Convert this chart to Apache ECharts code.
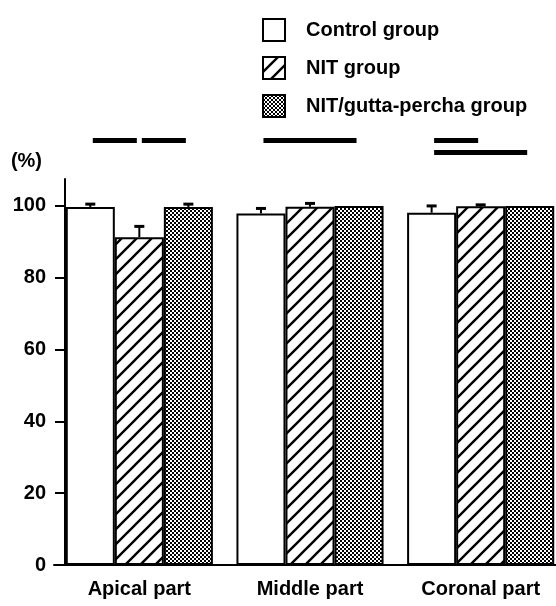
<!DOCTYPE html>
<html><head><meta charset="utf-8">
<script src="https://cdn.jsdelivr.net/npm/echarts@6/dist/echarts.min.js"></script>
<style>html,body{margin:0;padding:0;background:#fff}#c{width:556px;height:606px}</style>
</head><body><div id="c"></div>
<script>
// ---- data ----
const categories = ['Apical part', 'Middle part', 'Coronal part'];
const seriesNames = ['Control group', 'NIT group', 'NIT/gutta-percha group'];
const controlValues = [99.7, 97.9, 98.1];
const nitValues = [91.3, 99.8, 99.9];
const nitGpValues = [99.7, 100, 100];
const controlErrors = [0.8, 1.4, 1.9];
const nitErrors = [3.0, 0.9, 0.4];
const nitGpErrors = [0.8, 0, 0];
const yTicks = [0, 20, 40, 60, 80, 100];
// significance bars: [category, fromBar, toBar, row]
const sigLines = [[0, 0, 1, 0], [0, 1, 2, 0], [1, 0, 2, 0], [2, 0, 1, 0], [2, 0, 2, 1]];

// ---- style ----
const FONT = '"Liberation Sans", Arial, Helvetica, sans-serif';
const GAP = 0.138;
const Y_MAX = 107.5;

function hatchPattern() {
  const s = 15, c = document.createElement('canvas');
  c.width = s; c.height = s;
  const g = c.getContext('2d');
  g.fillStyle = '#fff'; g.fillRect(0, 0, s, s);
  g.strokeStyle = '#000'; g.lineWidth = 2.4;
  g.beginPath(); g.moveTo(-2, s + 2); g.lineTo(s + 2, -2); g.stroke();
  g.beginPath(); g.moveTo(-2, 2); g.lineTo(2, -2); g.stroke();
  g.beginPath(); g.moveTo(s - 2, s + 2); g.lineTo(s + 2, s - 2); g.stroke();
  return { image: c, repeat: 'repeat' };
}
function checkPattern() {
  const c = document.createElement('canvas');
  c.width = 4; c.height = 4;
  const g = c.getContext('2d');
  g.fillStyle = '#fff'; g.fillRect(0, 0, 4, 4);
  g.fillStyle = '#000';
  g.fillRect(0, 0, 2, 2); g.fillRect(2, 2, 2, 2);
  return { image: c, repeat: 'repeat' };
}

const barValues = [controlValues, nitValues, nitGpValues];
const barErrors = [controlErrors, nitErrors, nitGpErrors];
const fills = ['#ffffff', hatchPattern(), checkPattern()];

const errData = [];
for (let s = 0; s < 3; s++) {
  for (let c = 0; c < categories.length; c++) {
    if (barErrors[s][c] > 0) errData.push([c, s, barValues[s][c], barValues[s][c] + barErrors[s][c]]);
  }
}

function barCenter(api, c, s) {
  const band = api.size([1, 0])[0];
  const bw = band * (1 - GAP) / 3;
  return api.coord([c, 0])[0] + (s - 1) * bw;
}

const chart = echarts.init(document.getElementById('c'), null, { renderer: 'canvas' });
const series = seriesNames.map(function (name, s) {
  return {
    name: name, type: 'bar', data: barValues[s],
    barGap: '0%', barCategoryGap: (GAP * 100) + '%',
    itemStyle: { color: fills[s], borderColor: '#000', borderWidth: 2 },
    emphasis: { disabled: true }, z: 2
  };
});
series.push({
  type: 'custom', name: 'err', data: errData, encode: { x: 0, y: 2 }, z: 5, clip: false,
  renderItem: function (params, api) {
    const c = api.value(0), s = api.value(1), v = api.value(2), u = api.value(3);
    const cx = barCenter(api, c, s);
    const y0 = api.coord([c, v])[1], y1 = api.coord([c, u])[1];
    return { type: 'group', children: [
      { type: 'line', shape: { x1: cx, y1: y0, x2: cx, y2: y1 }, style: { stroke: '#000', lineWidth: 2 } },
      { type: 'line', shape: { x1: cx - 5, y1: y1, x2: cx + 5, y2: y1 }, style: { stroke: '#000', lineWidth: 3 } }
    ] };
  }
});
series.push({
  type: 'custom', name: 'sig', data: sigLines, encode: { x: 0, y: 3 }, z: 5, clip: false,
  renderItem: function (params, api) {
    const c = api.value(0), a = api.value(1), b = api.value(2), row = api.value(3);
    const x1 = barCenter(api, c, a) + 2.5, x2 = barCenter(api, c, b) - 2.5;
    const top = api.coord([c, Y_MAX])[1];
    const y = top - 41 + row * 12;
    return { type: 'rect', shape: { x: x1, y: y, width: x2 - x1, height: 5 }, style: { fill: '#000' } };
  }
});

chart.setOption({
  animation: false,
  backgroundColor: '#fff',
  textStyle: { fontFamily: FONT },
  legend: {
    data: seriesNames, orient: 'vertical', left: 257, top: 13,
    itemWidth: 22, itemHeight: 22, itemGap: 14, icon: 'rect',
    selectedMode: false,
    textStyle: { fontFamily: FONT, fontSize: 20, fontWeight: 'bold', color: '#000', padding: [0, 0, 0, 16] }
  },
  grid: { left: 54, right: -10, top: 179, bottom: 41, containLabel: false, outerBoundsMode: 'none' },
  xAxis: {
    type: 'category', data: categories,
    axisLine: { lineStyle: { color: '#000', width: 2 } },
    axisTick: { show: false },
    axisLabel: { color: '#000', fontFamily: FONT, fontSize: 20, fontWeight: 'bold', margin: 14 }
  },
  yAxis: {
    type: 'value', min: 0, max: Y_MAX, interval: 20, offset: -11,
    name: '(%)', nameLocation: 'end', nameGap: 8,
    nameTextStyle: { color: '#000', fontFamily: FONT, fontSize: 20, fontWeight: 'bold', align: 'right', padding: [0, 23, 0, 0] },
    axisLine: { show: true, lineStyle: { color: '#000', width: 2 } },
    axisTick: { show: true, length: 10, lineStyle: { color: '#000', width: 2 }, customValues: yTicks },
    axisLabel: { color: '#000', fontFamily: FONT, fontSize: 20, fontWeight: 'bold', margin: 19, customValues: yTicks },
    splitLine: { show: false }
  },
  series: series
});
</script></body></html>
